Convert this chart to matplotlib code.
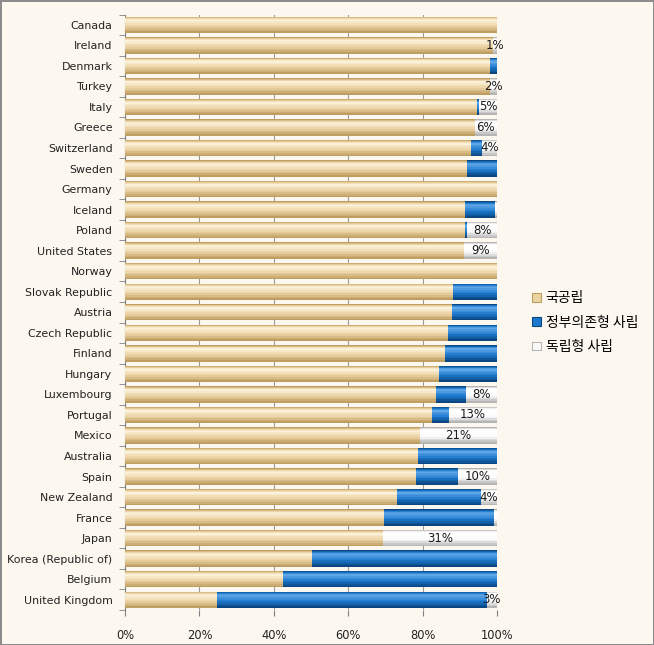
import numpy as np
import matplotlib
matplotlib.use("Agg")
import matplotlib.pyplot as plt
from matplotlib.patches import Patch
from matplotlib.colors import to_rgb

# countries, top to bottom
countries = ["Canada", "Ireland", "Denmark", "Turkey", "Italy", "Greece",
             "Switzerland", "Sweden", "Germany", "Iceland", "Poland",
             "United States", "Norway", "Slovak Republic", "Austria",
             "Czech Republic", "Finland", "Hungary", "Luxembourg", "Portugal",
             "Mexico", "Australia", "Spain", "New Zealand", "France", "Japan",
             "Korea (Republic of)", "Belgium", "United Kingdom"]

# share of students (%)
public = [100, 99, 98, 98, 94.6, 94, 93, 92, 100, 91.5, 91.4, 91, 100,
          88.3, 88, 86.7, 86, 84.3, 83.5, 82.4, 79.4, 78.7, 78.3, 73.1,
          69.7, 69.3, 50.4, 42.4, 24.8]
gov_private = [0, 0, 2, 0, 0.6, 0, 3, 8, 0, 8, 0.6, 0, 0, 11.7, 12, 13.3,
               14, 15.7, 8.2, 4.7, 0, 21.3, 11.3, 22.6, 29.5, 0, 49.6,
               57.6, 72.4]
ind_private = [0, 1, 0, 2, 4.8, 6, 4, 0, 0, 0.5, 8, 9, 0, 0, 0, 0, 0, 0,
               8.3, 12.9, 20.6, 0, 10.4, 4.3, 0.8, 30.7, 0, 0, 2.8]

series_names = ["국공립", "정부의존형 사립", "독립형 사립"]
# (shadow, body, highlight)
series_cols = [("#BF9E62", "#EBD3A2", "#FBF0D8"),
               ("#0A4682", "#1C78CC", "#5FA6E6"),
               ("#B5B5B5", "#FAFAFA", "#FFFFFF")]

bg = "#FDF8EF"

def mix(c1, c2, t):
    a, b = np.array(to_rgb(c1)), np.array(to_rgb(c2))
    return tuple(a + (b - a) * t)

fig = plt.figure(figsize=(6.54, 6.45), dpi=100, facecolor=bg)
fig.patch.set_edgecolor("#8C8C8C")
fig.patch.set_linewidth(2)
ax = fig.add_axes([125 / 654, 1 - 610 / 645, 372 / 654, (610 - 14.5) / 645])
ax.set_facecolor(bg)

y = np.arange(len(countries))
left = np.zeros(len(countries))
n_layers = 8
for vals, (dark, body, light) in zip([public, gov_private, ind_private], series_cols):
    vals = np.array(vals, dtype=float)
    # fake cylinder shading: stacked bands shrinking toward a highlight
    for k in range(n_layers):
        t = k / (n_layers - 1)
        top = -0.40 + t * 0.16
        bot = 0.40 - t * 0.56
        if t < 0.5:
            col = mix(dark, body, t * 2)
        else:
            col = mix(body, light, (t - 0.5) * 2)
        ax.barh(y + (top + bot) / 2, vals, left=left, height=bot - top,
                color=col, zorder=3 + k * 0.1, lw=0)
    left = left + vals

# labels on the independent private segment
start = np.array(public) + np.array(gov_private)
for i, v in enumerate(ind_private):
    if v >= 1:
        ax.text(start[i] + v / 2, y[i], "%d%%" % round(v), ha="center",
                va="center", fontsize=8.5, color="#1a1a1a", zorder=6)

ax.set_xlim(0, 100)
ax.set_ylim(len(countries) - 0.5, -0.5)
ax.set_xticks(np.arange(0, 101, 20))
ax.set_xticklabels(["%d%%" % t for t in range(0, 101, 20)], fontsize=8.3,
                   color="#222222")
ax.set_yticks(y)
ax.set_yticklabels(countries, fontsize=7.9, color="#222222")
ax.set_yticks(np.arange(-0.5, len(countries)), minor=True)
ax.tick_params(axis="y", which="major", length=0, pad=9)
ax.tick_params(axis="y", which="minor", length=4, color="#808080")
ax.tick_params(axis="x", length=4, color="#808080", pad=10)
ax.grid(axis="x", color="#9a9a9a", lw=0.8, zorder=0)
for s in ["top", "right", "bottom"]:
    ax.spines[s].set_visible(False)
ax.spines["left"].set_color("#808080")

handles = [Patch(facecolor=c[1], edgecolor=c[0], lw=0.8) for c in series_cols]
leg = fig.legend(handles, series_names, loc="center left",
                 bbox_to_anchor=(0.795, 0.50), frameon=False,
                 prop={"family": ["Noto Sans CJK KR", "DejaVu Sans"], "size": 10},
                 handlelength=0.6, handleheight=0.6, handletextpad=0.35,
                 labelspacing=0.75)

fig.savefig("out.png", dpi=100, facecolor=bg, edgecolor=fig.get_edgecolor())
